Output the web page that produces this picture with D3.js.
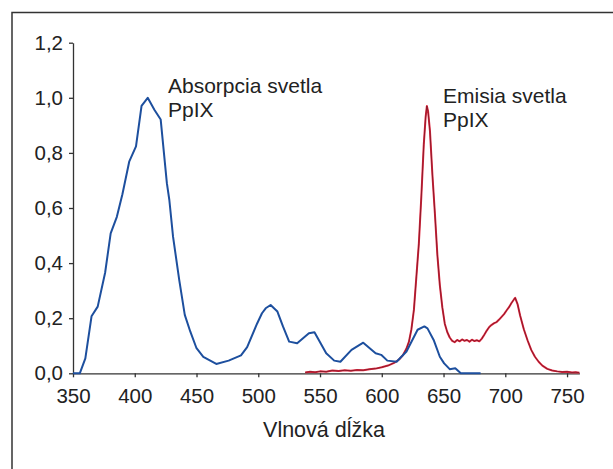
<!DOCTYPE html>
<html>
<head>
<meta charset="utf-8">
<script src="https://cdn.jsdelivr.net/npm/d3@7"></script>
<style>
  html, body { margin: 0; padding: 0; background: #fff; }
  svg { display: block; }
  text { font-family: "Liberation Sans", Arial, Helvetica, sans-serif; fill: #222; }
</style>
</head>
<body>
<svg id="chart" width="613" height="469"></svg>
<script>
// Absorption spectrum of PpIX (blue)
const absWavelength = [350,355.5,360,365,370,376,380.5,385.5,390,395.5,401,405.5,410.5,416,421,426,428,431,436,440.5,445,450,455.5,466,476,486,491,499,503,506,510,515.5,520,525,531.5,541,545.5,555,561.5,566.5,575.5,585,595,599.5,604.5,612,620,629,634.5,637,642,647,650.5,655,659.5,664,680];
const absValue      = [0,0,0.054,0.207,0.242,0.365,0.508,0.568,0.65,0.768,0.824,0.971,1.0,0.956,0.921,0.69,0.629,0.496,0.339,0.212,0.151,0.091,0.060,0.034,0.046,0.065,0.095,0.180,0.218,0.236,0.248,0.224,0.17,0.115,0.109,0.145,0.149,0.073,0.046,0.042,0.085,0.111,0.073,0.067,0.046,0.042,0.079,0.158,0.170,0.163,0.121,0.06,0.036,0.015,0.018,0,0];

// Emission spectrum of PpIX (red)
const emiWavelength = [538,542,546,550,555,560,565,570,575,580,585,590,595,600,605,610,614,617,620,622,624,626,628,630,632,634,635.5,636.5,637.5,639,641,643,645,647,649,651,653,655,657,659,661,663,665,667,669,671,673,675,677,679,681,683,685,687,689,691,693,695,697,699,701,703,705,707,708,710,712,715,718,721,724,727,730,734,738,742,746,750,754,757,760];
const emiValue      = [0.003,0.006,0.004,0.007,0.006,0.01,0.008,0.011,0.009,0.012,0.011,0.015,0.017,0.022,0.028,0.038,0.05,0.065,0.09,0.115,0.16,0.23,0.35,0.47,0.64,0.83,0.93,0.97,0.95,0.88,0.72,0.58,0.43,0.32,0.24,0.18,0.15,0.13,0.118,0.113,0.121,0.116,0.123,0.118,0.121,0.115,0.122,0.117,0.12,0.116,0.126,0.14,0.155,0.168,0.176,0.182,0.186,0.195,0.205,0.215,0.228,0.24,0.255,0.268,0.274,0.25,0.21,0.16,0.12,0.085,0.06,0.042,0.028,0.016,0.01,0.007,0.005,0.006,0.003,0.004,0.002];

const xTicks = [350,400,450,500,550,600,650,700,750];
const yTicks = [0,0.2,0.4,0.6,0.8,1.0,1.2];
const xTitle = "Vlnová dĺžka";
const absLabel = ["Absorpcia svetla","PpIX"];
const emiLabel = ["Emisia svetla","PpIX"];

const svg = d3.select("#chart");

// outer frame (extends past right/bottom edges)
svg.append("rect")
  .attr("x", 12).attr("y", 12.5)
  .attr("width", 620).attr("height", 470)
  .attr("fill", "none").attr("stroke", "#333").attr("stroke-width", 1.5);

const x = d3.scaleLinear().domain([350, 760]).range([73, 579.4]);
const y = d3.scaleLinear().domain([0, 1.2]).range([373.3, 42.7]);

const fmt = d => d3.format(".1f")(d).replace(".", ",");

// x axis
const gx = svg.append("g").attr("transform", `translate(0,${y(0)})`)
  .call(d3.axisBottom(x).tickValues(xTicks).tickSize(4).tickPadding(11).tickSizeOuter(0));
gx.select(".domain").attr("stroke", "#333").attr("stroke-width", 1.3);
gx.selectAll(".tick line").attr("stroke", "#333").attr("stroke-width", 1.3);
gx.selectAll(".tick text").attr("font-size", 20.5).attr("fill", "#222")
  .style("font-family", '"Liberation Sans", Arial, sans-serif');

// y axis
const gy = svg.append("g").attr("transform", `translate(${x(350)},0)`)
  .call(d3.axisLeft(y).tickValues(yTicks).tickFormat(fmt).tickSize(4).tickPadding(6).tickSizeOuter(0));
gy.select(".domain").attr("stroke", "#333").attr("stroke-width", 1.3);
gy.selectAll(".tick line").attr("stroke", "#333").attr("stroke-width", 1.3);
gy.selectAll(".tick text").attr("font-size", 20.5).attr("fill", "#222")
  .style("font-family", '"Liberation Sans", Arial, sans-serif');

// x title
svg.append("text").attr("x", 324).attr("y", 437)
  .attr("text-anchor", "middle").attr("font-size", 21.5).text(xTitle);

const line = d3.line().x(d => x(d[0])).y(d => y(d[1])).curve(d3.curveLinear);

const emiData = emiWavelength.map((w, i) => [w, emiValue[i]]);
const absData = absWavelength.map((w, i) => [w, absValue[i]]);

// emission: bright red outer with dark core
svg.append("path").datum(emiData).attr("d", line)
  .attr("fill", "none").attr("stroke", "#e0283f").attr("stroke-width", 2).attr("stroke-linejoin", "round");
svg.append("path").datum(emiData).attr("d", line)
  .attr("fill", "none").attr("stroke", "#7a1626").attr("stroke-width", 0.8).attr("stroke-linejoin", "round");

// absorption
svg.append("path").datum(absData).attr("d", line)
  .attr("fill", "none").attr("stroke", "#1d4f9e").attr("stroke-width", 2).attr("stroke-linejoin", "round");

// annotations
const a = svg.append("text").attr("x", 168).attr("y", 93).attr("font-size", 21);
absLabel.forEach((t, i) => a.append("tspan").attr("x", 168).attr("dy", i ? 24 : 0).text(t));
const e = svg.append("text").attr("x", 443).attr("y", 103).attr("font-size", 21);
emiLabel.forEach((t, i) => e.append("tspan").attr("x", 443).attr("dy", i ? 24 : 0).text(t));
</script>
</body>
</html>
